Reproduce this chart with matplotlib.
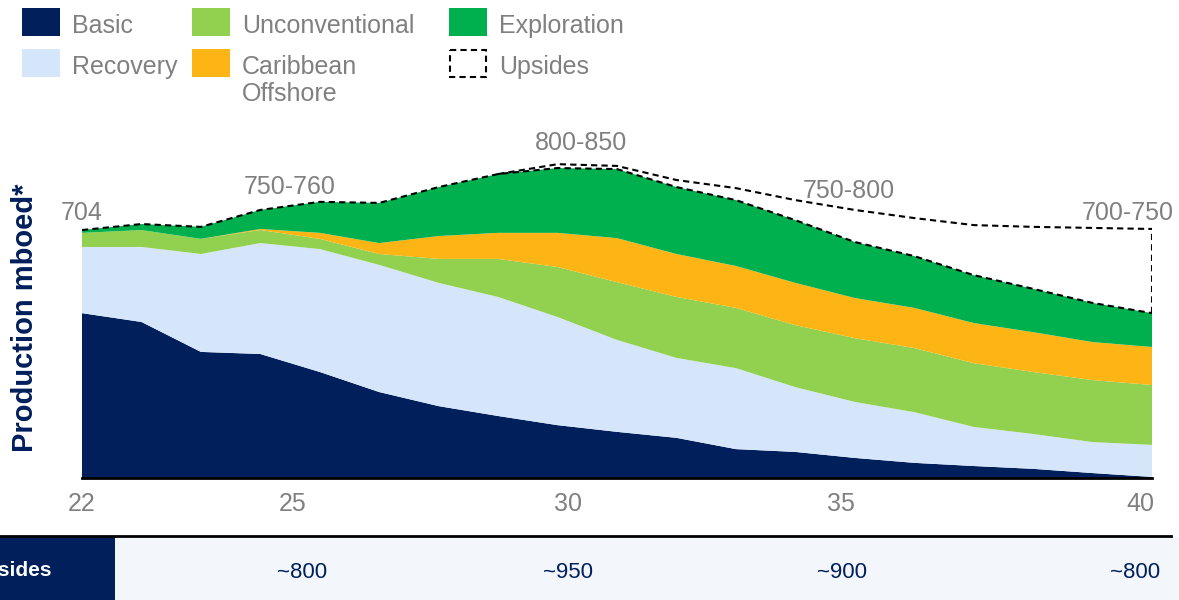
import matplotlib
matplotlib.use("Agg")
import matplotlib.pyplot as plt
from matplotlib.patches import Rectangle

plt.rcParams['font.family'] = ['Liberation Sans', 'DejaVu Sans']

# production by source, mboed
years = list(range(2022, 2041))
basic = [468, 443, 358, 352, 301, 244, 204, 176, 150, 131, 114, 82, 74, 57, 43, 34, 26, 14, 3]
recovery = [188, 213, 278, 315, 349, 361, 350, 338, 307, 261, 227, 230, 184, 159, 144, 111, 99, 88, 91]
unconventional = [40, 48, 43, 37, 29, 31, 68, 108, 142, 164, 173, 171, 176, 181, 182, 181, 176, 176, 170]
caribbean = [0, 0, 0, 3, 17, 31, 65, 74, 97, 125, 122, 119, 120, 114, 114, 114, 113, 108, 108]
exploration = [8, 17, 34, 54, 88, 114, 139, 167, 184, 196, 190, 187, 178, 159, 147, 136, 123, 111, 96]

# upside envelope from 2029 on
upside_years = list(range(2029, 2041))
upside = [863, 891, 886, 846, 823, 789, 761, 738, 718, 713, 710, 707]

tick_labels = ['22', '25', '30', '35', '40']
tick_pos = [2022, 2025.55, 2030.18, 2034.77, 2039.8]  # labels sit a bit off the year grid in the original

callouts = ['704', '750-760', '800-850', '750-800', '700-750']
callout_x = [2022, 2025.5, 2030.4, 2034.9, 2039.6]
callout_y = [752, 825, 950, 816, 752]

table_label = 'Upsides'
table_values = ['~800', '~950', '~900', '~800']

names = ['Basic', 'Recovery', 'Unconventional', 'Caribbean\nOffshore', 'Exploration', 'Upsides']
colors = ['#001f5b', '#d5e6fa', '#92d14f', '#fdb515', '#00b04f']
navy = '#001f5b'
grey = '#808080'

W, H = 1179, 600
fig = plt.figure(figsize=(W / 100, H / 100), dpi=100)

# overlay in pixel coords for legend and bottom row
ov = fig.add_axes([0, 0, 1, 1])
ov.set_xlim(0, W)
ov.set_ylim(H, 0)
ov.axis('off')

ax = fig.add_axes([82 / W, (H - 478) / H, 1070 / W, 348 / H])
ax.stackplot(years, basic, recovery, unconventional, caribbean, exploration,
             colors=colors, linewidth=0)
total = [a + b + c + d + e for a, b, c, d, e in
         zip(basic, recovery, unconventional, caribbean, exploration)]
dash = (0, (3, 2))
ax.plot(years, total, color='black', lw=1.5, linestyle=dash)
ax.plot(upside_years, upside, color='black', lw=1.5, linestyle=dash)
ax.plot([years[-1], years[-1]], [total[-1], upside[-1]], color='black', lw=1.5, linestyle=dash)

for t, x, y in zip(callouts, callout_x, callout_y):
    ax.text(x, y, t, color=grey, fontsize=18, ha='center', va='center')

ax.set_xlim(years[0], years[-1])
ax.set_ylim(0, 988)
ax.set_xticks(tick_pos)
ax.set_xticklabels(tick_labels, color=grey, fontsize=18)
ax.tick_params(axis='x', length=0, pad=10)
ax.set_yticks([])
for s in ['top', 'right', 'left']:
    ax.spines[s].set_visible(False)
ax.spines['bottom'].set_linewidth(2)
ax.spines['bottom'].set_color('black')
ax.patch.set_alpha(0)

fig.text(25 / W, 1 - 318 / H, 'Production mboed*', rotation=90, color=navy,
         fontsize=21, fontweight='bold', ha='center', va='center')

# legend
leg_pos = [(22, 8), (22, 49), (192, 8), (192, 49), (449, 8), (449, 49)]
for i, (name, (x, y)) in enumerate(zip(names, leg_pos)):
    if i < 5:
        ov.add_patch(Rectangle((x, y), 38, 28, color=colors[i], lw=0))
    else:
        ov.add_patch(Rectangle((x + 1, y + 1), 36, 27, fill=False, ec='black', lw=1.5,
                               linestyle=dash))
    if '\n' in name:
        ov.text(x + 50, y + 6, name, color=grey, fontsize=18, ha='left', va='top',
                linespacing=1.15)
    else:
        ov.text(x + 50, y + 18, name, color=grey, fontsize=18, ha='left', va='center')

# bottom row
ov.plot([0, 1171], [536, 536], color='black', lw=2)
ov.add_patch(Rectangle((115, 537), W - 115, 63, color='#f3f7fc', lw=0))
ov.add_patch(Rectangle((0, 537), 115, 63, color=navy, lw=0))
ov.text(52, 571, table_label, color='white', fontsize=15, fontweight='bold', ha='right', va='center')
for t, x in zip(table_values, [302, 568, 842, 1135]):
    ov.text(x, 572, t, color=navy, fontsize=16, ha='center', va='center')

fig.savefig('out.png', dpi=100)
